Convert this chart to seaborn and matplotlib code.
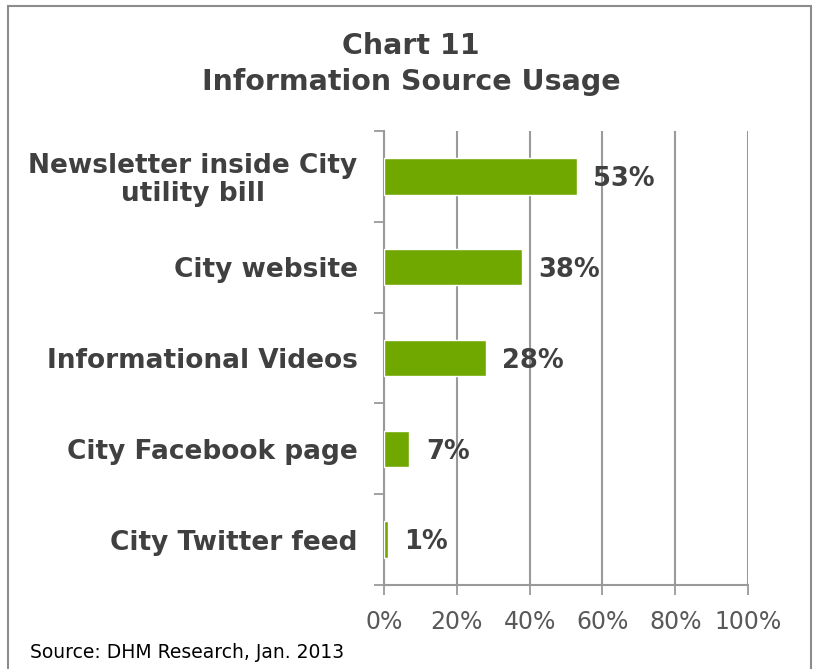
import matplotlib
matplotlib.use('Agg')
import matplotlib.pyplot as plt
from matplotlib.patches import Rectangle
from matplotlib.ticker import FixedLocator
import seaborn as sns
import pandas as pd

# Chart 11 data
sources = ['Newsletter inside City\nutility bill', 'City website',
           'Informational Videos', 'City Facebook page', 'City Twitter feed']
usage = [53, 38, 28, 7, 1]
x_ticks = [0, 20, 40, 60, 80, 100]

BAR_COLOR = '#70A800'
TEXT_DARK = '#404040'
GRID_GREY = '#9A9A9A'

sns.set_theme(style='white')
plt.rcParams['font.family'] = ['DejaVu Sans']

df = pd.DataFrame({'source': sources, 'usage': usage})

fig = plt.figure(figsize=(8.14, 6.69), dpi=100)
ax = fig.add_axes([384 / 814, 84 / 669, 364 / 814, 454 / 669])

sns.barplot(data=df, x='usage', y='source', color=BAR_COLOR, width=0.4,
            saturation=1, ax=ax, zorder=3)

ax.set_xlim(0, 100)
ax.set_ylim(len(sources) - 0.5, -0.5)
ax.set_xticks(x_ticks)
ax.set_xticklabels([f'{t}%' for t in x_ticks], fontsize=17, color='#595959')
ax.set_xlabel('')
ax.set_ylabel('')
ax.set_yticks(range(len(sources)))
ax.set_yticklabels(sources, fontsize=19, fontweight='bold', color=TEXT_DARK,
                   linespacing=1.1, multialignment='center')
ax.tick_params(axis='y', which='major', length=0, pad=19)
ax.yaxis.set_minor_locator(FixedLocator([i - 0.5 for i in range(len(sources) + 1)]))
ax.tick_params(axis='y', which='minor', length=7, width=1.3, color=GRID_GREY, left=True)
ax.tick_params(axis='x', which='major', length=7, width=1.3, color=GRID_GREY,
               bottom=True, pad=11)

ax.grid(axis='x', color=GRID_GREY, linewidth=1.5, zorder=0)
ax.set_axisbelow(True)
for side in ['top', 'right']:
    ax.spines[side].set_visible(False)
for side in ['left', 'bottom']:
    ax.spines[side].set_color(GRID_GREY)
    ax.spines[side].set_linewidth(1.5)

for i, v in enumerate(usage):
    ax.text(v + 4.5, i + 0.03, f'{v}%', va='center', ha='left', fontsize=18.5,
            fontweight='bold', color=TEXT_DARK, zorder=4)

fig.text(411 / 814, 1 - 46 / 669, 'Chart 11', ha='center', va='center',
         fontsize=20.5, fontweight='bold', color=TEXT_DARK)
fig.text(411 / 814, 1 - 82 / 669, 'Information Source Usage', ha='center',
         va='center', fontsize=20.5, fontweight='bold', color=TEXT_DARK)
fig.text(30 / 814, 1 - 652 / 669, 'Source: DHM Research, Jan. 2013',
         ha='left', va='center', fontsize=13.5, color='black')

fig.patches.append(Rectangle((8 / 814, -0.05), 803 / 814, 1.05 - 6 / 669,
                             transform=fig.transFigure, fill=False,
                             edgecolor='#8C8C8C', linewidth=1.5))

fig.savefig('out.png', dpi=100)
plt.close()
